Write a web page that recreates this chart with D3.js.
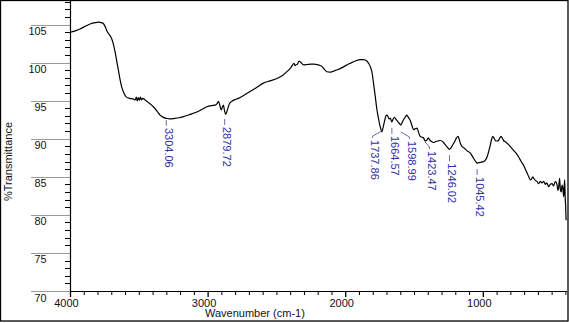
<!DOCTYPE html>
<html><head><meta charset="utf-8">
<script src="https://cdn.jsdelivr.net/npm/d3@7"></script>
<style>
html,body{margin:0;padding:0;background:#fff;}
svg{display:block;font-family:"Liberation Sans",Arial,sans-serif;}
</style></head>
<body>
<svg id="chart" width="569" height="323"></svg>
<script>
// ---- data ----
const wavenumber = [4000,3960,3931,3890,3858,3820,3798,3775,3760,3745,3737,3715,3700,3688,3676,3664,3652,3640,3628,3612,3596,3570,3543,3530,3522,3515,3508,3500,3492,3484,3476,3458,3430,3398,3370,3349,3325,3300,3280,3250,3210,3180,3130,3082,3040,3009,2975,2949,2935,2925,2915,2905,2897,2889,2880,2872,2860,2845,2828,2810,2780,2740,2695,2650,2598,2550,2500,2460,2428,2400,2375,2368,2362,2350,2340,2331,2320,2307,2280,2250,2234,2200,2173,2150,2137,2115,2100,2070,2040,2000,1967,1930,1895,1870,1846,1834,1822,1810,1798,1785,1773,1760,1754,1745,1738,1728,1718,1705,1695,1685,1676,1665,1655,1645,1633,1620,1610,1599,1590,1580,1565,1555,1545,1531,1520,1507,1495,1482,1470,1458,1445,1434,1423,1412,1400,1388,1373,1360,1349,1330,1313,1295,1276,1258,1246,1235,1222,1209,1195,1184,1175,1165,1155,1135,1118,1094,1070,1055,1045,1034,1020,1005,997,985,973,960,949,940,932,920,910,900,889,880,871,860,850,840,815,791,767,743,725,707,695,682,670,658,650,640,634,620,610,598,585,575,561,550,540,525,515,500,490,476,465,458,452,446,440,434,428,422,416,412,409,405,402,400,398];
const transmittance = [104.0,104.2,104.4,104.8,105.07,105.25,105.3,105.25,105.1,104.6,104.2,103.6,103.1,102.4,101.4,100.2,99.0,97.8,96.8,96.0,95.5,95.3,95.2,95.1,95.45,94.95,95.4,95.05,95.45,95.1,95.3,95.1,94.7,94.2,93.6,93.1,92.8,92.65,92.6,92.65,92.75,92.9,93.2,93.5,93.9,94.2,94.35,94.4,94.6,94.9,94.4,93.8,94.1,94.4,93.6,93.2,93.8,94.6,94.9,95.1,95.3,95.7,96.2,96.7,97.3,97.6,97.9,98.3,98.8,99.3,99.9,99.6,99.7,99.8,100.2,100.1,99.9,99.7,99.75,99.8,99.8,99.7,99.5,99.0,98.8,98.75,98.8,99.0,99.2,99.6,99.9,100.2,100.4,100.4,100.2,99.9,99.5,98.8,97.3,95.5,93.8,92.5,91.9,91.3,90.9,91.5,92.3,93.1,93.0,92.6,92.7,92.2,92.6,92.8,92.5,92.2,92.0,91.8,92.1,92.5,92.9,93.1,92.8,92.4,91.8,91.2,91.3,91.4,90.8,90.3,90.2,90.1,89.7,89.8,90.1,89.8,89.6,89.5,89.6,89.7,89.8,89.6,89.2,88.8,88.6,88.8,89.2,89.6,90.1,90.3,89.9,89.3,89.0,88.7,88.4,88.1,87.4,87.0,86.8,86.85,86.9,86.95,87.0,87.2,87.6,88.4,89.2,89.9,90.3,90.0,89.7,89.7,89.8,90.1,90.3,90.0,89.7,89.6,89.2,88.7,88.2,87.6,87.0,86.5,86.0,85.5,85.0,84.6,84.7,85.0,84.8,84.5,84.4,84.1,84.4,84.2,84.4,84.0,84.2,83.7,84.0,84.1,83.8,84.4,84.0,83.2,83.7,84.8,83.3,83.0,83.9,83.5,82.4,83.8,84.6,82.2,81.2,80.0,79.3];

const peakWn = [3304.06, 2879.72, 1737.86, 1664.57, 1598.99, 1423.47, 1246.02, 1045.42];
const peakLabels = ["3304.06","2879.72","1737.86","1664.57","1598.99","1423.47","1246.02","1045.42"];
// where each label column sits, in data units (wavenumber, %T at top of text)
const labelWn = [3304.06, 2879.72, 1804, 1664.57, 1537, 1391, 1246.02, 1045.42];
const labelT  = [91.41, 91.54, 89.83, 90.36, 89.70, 88.39, 86.77, 84.97];

const yTicks = [70,75,80,85,90,95,100,105];
const xTicks = [4000,3000,2000,1000];
const yTitle = "%Transmittance";
const xTitle = "Wavenumber (cm-1)";

// ---- drawing ----
const svg = d3.select("#chart");
const x = d3.scaleLinear().domain([4000, 400]).range([70.5, 565.9]);
const y = d3.scaleLinear().domain([70, 105]).range([291, 24.5]);

// outer frame
svg.append("rect").attr("x",0.5).attr("y",0.5).attr("width",567.5).attr("height",320.5)
  .attr("fill","none").attr("stroke","#000").attr("stroke-width",1.3);

// y major tick lines (gray) with labels under them
const gY = svg.append("g");
gY.selectAll("line.maj").data(yTicks).join("line")
  .attr("x1",31).attr("x2",70).attr("y1",d=>Math.round(y(d))+0.5).attr("y2",d=>Math.round(y(d))+0.5)
  .attr("stroke","#9a9a9a").attr("stroke-width",1);
gY.selectAll("text").data(yTicks).join("text")
  .attr("x",46.5).attr("y",d=>y(d)+10.5).attr("text-anchor","end")
  .attr("font-size",10.8).attr("fill","#111").text(d=>d);
// y minor ticks every 1
const yMinor = d3.range(71, 109).filter(v=>v%5!==0);
gY.selectAll("line.min").data(yMinor).join("line")
  .attr("x1",65).attr("x2",70).attr("y1",d=>Math.round(y(d))+0.5).attr("y2",d=>Math.round(y(d))+0.5)
  .attr("stroke","#000").attr("stroke-width",1);
// y axis line
gY.append("line").attr("x1",70.5).attr("x2",70.5).attr("y1",y(108.2)).attr("y2",291.5)
  .attr("stroke","#000").attr("stroke-width",1.2);

// x axis
const gX = svg.append("g");
gX.append("line").attr("x1",70).attr("x2",567).attr("y1",291.5).attr("y2",291.5)
  .attr("stroke","#000").attr("stroke-width",1.2);
const xMinor = d3.range(400, 4001, 100);
gX.selectAll("line.t").data(xMinor).join("line")
  .attr("x1",d=>x(d)).attr("x2",d=>x(d)).attr("y1",291.5)
  .attr("y2",d=>d%1000===0?297:295)
  .attr("stroke","#000").attr("stroke-width",d=>d%1000===0?1.3:1);
gX.selectAll("text").data(xTicks).join("text")
  .attr("x",d=>x(d)-4).attr("y",306.5).attr("text-anchor","middle")
  .attr("font-size",11).attr("fill","#111").text(d=>d);

// titles
svg.append("text").attr("x",205).attr("y",316.5).attr("font-size",11).attr("fill","#111").text(xTitle);
svg.append("text").attr("transform","translate(12,161.5) rotate(-90)")
  .attr("text-anchor","middle").attr("font-size",11).attr("fill","#111").text(yTitle);

// spectrum
const pts = wavenumber.map((w,i)=>[w, transmittance[i]]);
svg.append("path").datum(pts)
  .attr("d", d3.line().x(d=>x(d[0])).y(d=>y(d[1])).curve(d3.curveMonotoneX))
  .attr("fill","none").attr("stroke","#000").attr("stroke-width",1.2).attr("stroke-linejoin","round");

// peak labels
const gP = svg.append("g");
peakWn.forEach((w,i)=>{
  const px = x(w), lx = x(labelWn[i]), top = y(labelT[i]);
  const straight = Math.abs(px-lx) < 1;
  const pathPts = straight
    ? [[px, top-8],[px, top-2]]
    : [[px, top-9],[lx, top-4],[lx, top-2]];
  gP.append("path").attr("d", d3.line()(pathPts))
    .attr("fill","none").attr("stroke","#6b6bb5").attr("stroke-width",1);
  gP.append("text")
    .attr("transform",`translate(${lx+2.5},${top}) rotate(90)`)
    .attr("dy","0.35em").attr("font-size",11).attr("fill","#2f2fa6")
    .text(peakLabels[i]);
});
</script>
</body></html>
